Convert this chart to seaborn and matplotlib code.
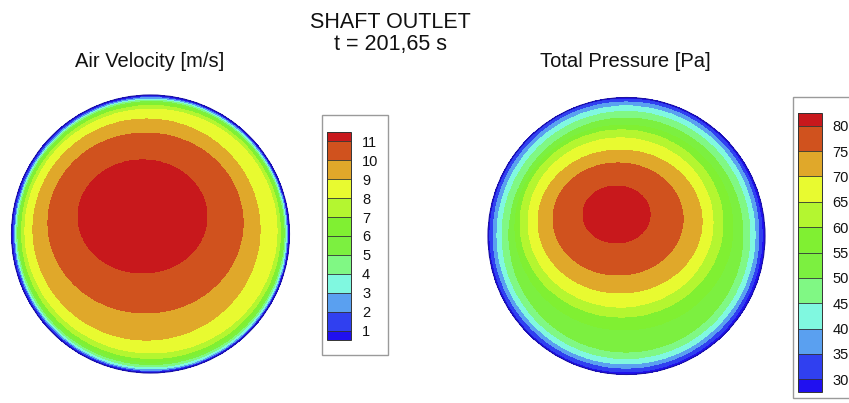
import numpy as np
import matplotlib
matplotlib.use("Agg")
import matplotlib.pyplot as plt
from matplotlib.patches import Rectangle, Circle
import seaborn as sns

sns.set_theme(style="white")
plt.rcParams["font.family"] = ["Liberation Sans", "DejaVu Sans"]
plt.rcParams["text.color"] = "#111111"

# --- band colours: below lowest level ... above highest level ---
band_colors = ["#2010f0", "#3040f0", "#5aa0f0", "#80f8e0", "#80f884", "#7cf040",
               "#80f032", "#b4f630", "#e8fa30", "#e0a82a", "#d0521e", "#c8181c"]

# --- Air velocity: contour boundaries (pixel coords) ---
vel_levels = [1, 2, 3, 4, 5, 6, 7, 8, 9, 10, 11]
vel_cx = [150.5, 151, 151, 151, 151, 151, 151, 151, 146.5, 145.5, 142.5]
vel_cy = [234, 234, 234, 233.5, 233, 232.5, 232, 231, 229.5, 223, 216.5]
vel_ax = [137.2, 136.3, 135.3, 134.2, 133, 131.5, 129.5, 126, 113.5, 97.5, 64.5]
vel_ay = [137.2, 136.3, 135, 133.5, 131.5, 129.5, 126.5, 122, 110.5, 90, 56.5]
vel_disk = (150.5, 234, 139)

# --- Total pressure ---
pres_levels = [30, 35, 40, 45, 50, 55, 60, 65, 70, 75, 80]
pres_cx = [626, 626, 626, 626, 626, 624, 621.5, 620.5, 620, 618, 616.5]
pres_cy = [235.5, 235, 235, 235, 235, 227.5, 223.5, 222.5, 221.5, 219, 214.5]
pres_ax = [136, 133, 129, 124, 117, 109, 101.5, 92.5, 82, 65, 33.5]
pres_ay = [136.5, 133, 129, 123.5, 117, 102.5, 93.5, 84.5, 71.5, 56, 28.5]
pres_disk = (626.5, 236, 138.5)

W, H = 849, 403


def disk_field(levels, cx, cy, ax_, ay_, disk, n=800):
    x0, y0, r0 = disk
    X, Y = np.meshgrid(np.linspace(x0 - r0, x0 + r0, n),
                       np.linspace(y0 - r0, y0 + r0, n))
    step = levels[1] - levels[0]
    Z = np.full(X.shape, levels[0] - step / 2)
    for lv, ex, ey, a, b in zip(levels, cx, cy, ax_, ay_):
        inside = ((X - ex) / a) ** 2 + ((Y - ey) / b) ** 2 <= 1
        Z[inside] = lv + step / 2
    Z[(X - x0) ** 2 + (Y - y0) ** 2 > r0 ** 2] = np.nan
    return X, Y, Z


def fig_box(x0, y0, x1, y1):
    return [x0 / W, 1 - y1 / H, (x1 - x0) / W, (y1 - y0) / H]


fig = plt.figure(figsize=(W / 100, H / 100), dpi=100)
ax = fig.add_axes([0, 0, 1, 1])
ax.set_xlim(0, W)
ax.set_ylim(H, 0)
ax.set_aspect("auto")
ax.axis("off")

panels = [
    (vel_levels, vel_cx, vel_cy, vel_ax, vel_ay, vel_disk,
     (322, 115, 388, 355), (327, 132, 351, 340), 8.0),
    (pres_levels, pres_cx, pres_cy, pres_ax, pres_ay, pres_disk,
     (793, 97, 870, 398), (798, 113, 822, 392), 7.5),
]

for levels, cx, cy, a_, b_, disk, frame, cbox, pad in panels:
    X, Y, Z = disk_field(levels, cx, cy, a_, b_, disk)
    cs = ax.contourf(X, Y, Z, levels=levels, colors=band_colors, extend="both")
    ax.add_patch(Circle(disk[:2], disk[2], fill=False, ec="#1c14a0", lw=0.8))

    # legend frame
    ax.add_patch(Rectangle((frame[0], frame[1]), frame[2] - frame[0], frame[3] - frame[1],
                           fc="white", ec="#9a9a9a", lw=1.0, clip_on=False))
    cax = fig.add_axes(fig_box(*cbox))
    cb = fig.colorbar(cs, cax=cax, ticks=levels, extendfrac=0.05,
                      extendrect=True, drawedges=True)
    cb.outline.set_edgecolor("#333333")
    cb.outline.set_linewidth(0.7)
    cb.dividers.set_color("#333333")
    cb.dividers.set_linewidth(0.6)
    cax.tick_params(length=0, pad=pad, labelsize=10.5, colors="#111111")
    cax.set_yticklabels([str(v) for v in levels])

fig.text(390 / W, 1 - 28 / H, "SHAFT OUTLET", ha="center", va="baseline", fontsize=15.5)
fig.text(390 / W, 1 - 50 / H, "t = 201,65 s", ha="center", va="baseline", fontsize=15.5)
fig.text(150 / W, 1 - 67 / H, "Air Velocity [m/s]", ha="center", va="baseline", fontsize=14.5)
fig.text(625 / W, 1 - 67 / H, "Total Pressure [Pa]", ha="center", va="baseline", fontsize=14.5)

fig.savefig("out.png", dpi=100)
